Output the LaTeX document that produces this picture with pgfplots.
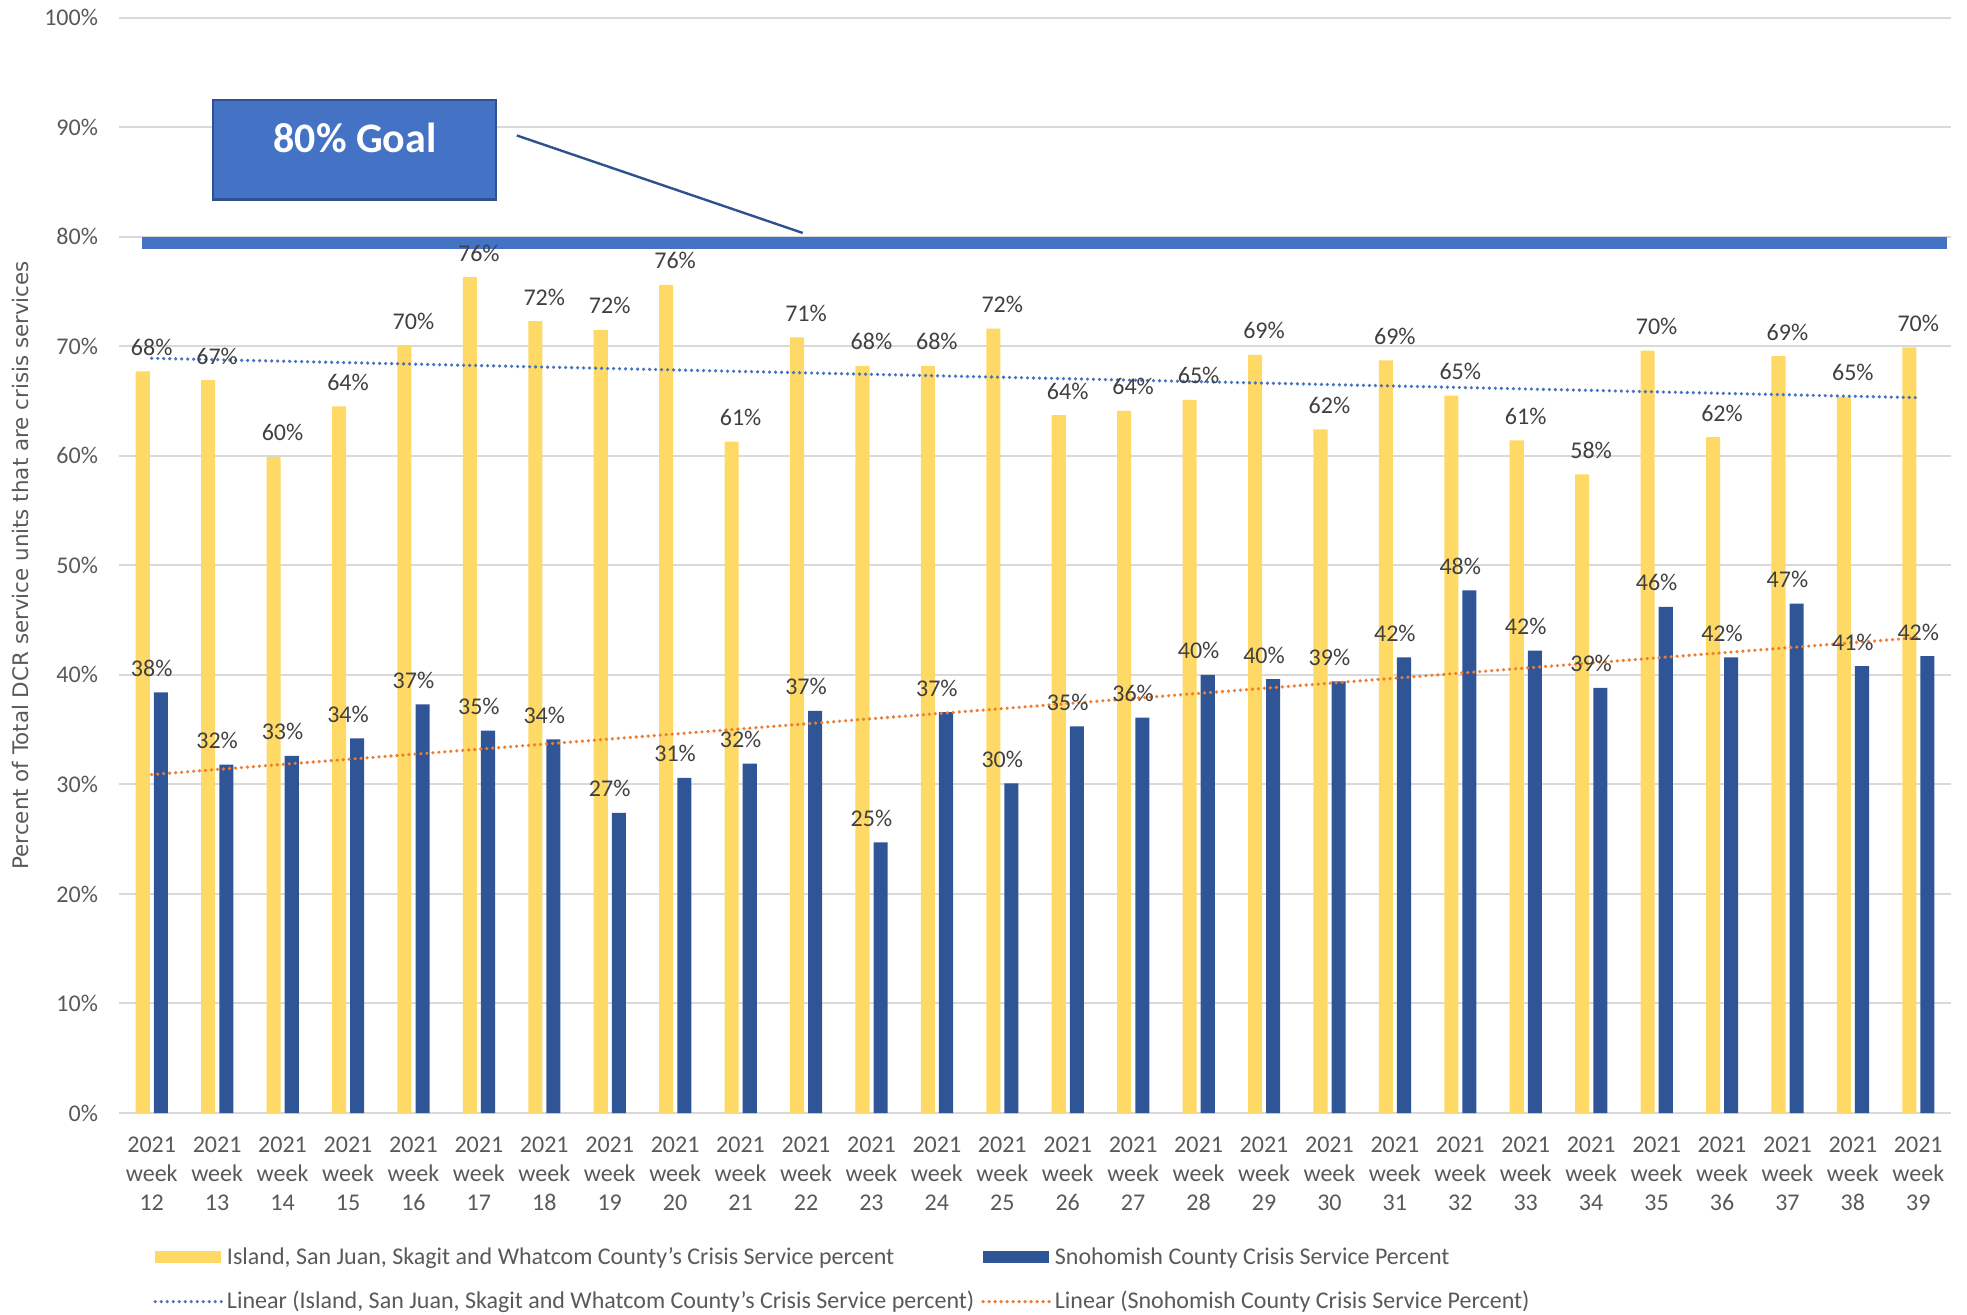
\documentclass[border=0pt]{standalone}
\usepackage{pgfplots}
\pgfplotsset{compat=1.18}
\usepackage{pgfplotstable}
\usepackage{fontspec}
\setmainfont{Carlito}
\newfontfamily\ylabfont{DejaVu Sans}
\definecolor{ygold}{HTML}{FFD966}
\definecolor{bblue}{HTML}{2F5597}
\definecolor{gblue}{HTML}{4472C4}
\definecolor{gedge}{HTML}{2F528F}
\definecolor{trorange}{HTML}{ED7D31}
\definecolor{txtgray}{HTML}{595959}
\definecolor{lblgray}{HTML}{404040}
\definecolor{gridgray}{HTML}{D9D9D9}

\pgfplotstableread{
x y lab
0 67.7 68
1 66.9 67
2 59.9 60
3 64.5 64
4 70.1 70
5 76.3 76
6 72.3 72
7 71.5 72
8 75.6 76
9 61.3 61
10 70.8 71
11 68.2 68
12 68.2 68
13 71.6 72
14 63.7 64
15 64.1 64
16 65.1 65
17 69.2 69
18 62.4 62
19 68.7 69
20 65.5 65
21 61.4 61
22 58.3 58
23 69.6 70
24 61.7 62
25 69.1 69
26 65.4 65
27 69.9 70
}\yellowdata

\pgfplotstableread{
x y lab
0 38.4 38
1 31.8 32
2 32.6 33
3 34.2 34
4 37.3 37
5 34.9 35
6 34.1 34
7 27.4 27
8 30.6 31
9 31.9 32
10 36.7 37
11 24.7 25
12 36.6 37
13 30.1 30
14 35.3 35
15 36.1 36
16 40.0 40
17 39.6 40
18 39.4 39
19 41.6 42
20 47.7 48
21 42.2 42
22 38.8 39
23 46.2 46
24 41.6 42
25 46.5 47
26 40.8 41
27 41.7 42
}\bluedata

\begin{document}
\begin{tikzpicture}
\useasboundingbox (-59.5pt,-100.5pt) rectangle (924pt,556.5pt);
\begin{axis}[
  at={(0pt,0pt)}, anchor=south west,
  scale only axis, width=916pt, height=547.7pt,
  xmin=-0.5, xmax=27.5, ymin=0, ymax=100,
  clip=false,
  axis line style={draw=none},
  ymajorgrids, grid style={gridgray, line width=1pt},
  major tick length=0pt,
  ytick={0,10,20,30,40,50,60,70,80,90,100},
  yticklabels={0\%,10\%,20\%,30\%,40\%,50\%,60\%,70\%,80\%,90\%,100\%},
  yticklabel style={font=\fontsize{12}{14}\selectfont, text=txtgray, xshift=-7pt},
  xtick={0,...,27},
  xticklabels={{2021\\week\\12},{2021\\week\\13},{2021\\week\\14},{2021\\week\\15},{2021\\week\\16},{2021\\week\\17},{2021\\week\\18},{2021\\week\\19},{2021\\week\\20},{2021\\week\\21},{2021\\week\\22},{2021\\week\\23},{2021\\week\\24},{2021\\week\\25},{2021\\week\\26},{2021\\week\\27},{2021\\week\\28},{2021\\week\\29},{2021\\week\\30},{2021\\week\\31},{2021\\week\\32},{2021\\week\\33},{2021\\week\\34},{2021\\week\\35},{2021\\week\\36},{2021\\week\\37},{2021\\week\\38},{2021\\week\\39}},
  xticklabel style={align=center, font=\fontsize{12}{14.4}\selectfont, text=txtgray, yshift=-8.5pt},
  ylabel={Percent of Total DCR service units that are crisis services},
  ylabel style={font=\ylabfont\fontsize{10.7}{12}\selectfont, text=txtgray, at={(axis description cs:-0.0535,0.5)}, anchor=center},
  legend columns=2,
  legend cell align=left,
  legend style={at={(axis description cs:0,0)}, anchor=north west, xshift=14pt, yshift=-63pt,
    draw=none, fill=none, font=\fontsize{12}{14}\selectfont, text=txtgray,
    row sep=8pt,
    /tikz/every odd column/.style={column sep=0pt},
    /tikz/every even column/.style={column sep=1.5pt}},
  nodes near coords style={font=\fontsize{12}{14}\selectfont, text=lblgray, anchor=south, inner sep=0pt, yshift=7.7pt},
]
\addplot[ybar, bar width=0.215, bar shift=-0.137, fill=ygold, draw=none,
  point meta=explicit,
  nodes near coords={\pgfmathprintnumber[fixed,precision=0,assume math mode=true]{\pgfplotspointmeta}\%},
  legend image code/.code={\fill[ygold] (0pt,-3pt) rectangle (33pt,3pt);}]
  table[x=x, y=y, meta=lab]{\yellowdata};
\addlegendentry{Island, San Juan, Skagit and Whatcom County's Crisis Service percent}
\addplot[ybar, bar width=0.215, bar shift=0.14, fill=bblue, draw=none,
  point meta=explicit,
  nodes near coords={\pgfmathprintnumber[fixed,precision=0,assume math mode=true]{\pgfplotspointmeta}\%},
  legend image code/.code={\fill[bblue] (0pt,-3pt) rectangle (33pt,3pt);}]
  table[x=x, y=y, meta=lab]{\bluedata};
\addlegendentry{Snohomish County Crisis Service Percent}
\addplot[gblue, line width=1.8pt, line cap=round, dash pattern=on 0pt off 3pt, mark=none,
  legend image code/.code={\draw[gblue, line width=1.8pt, line cap=round, dash pattern=on 0pt off 3pt] (0pt,0pt) -- (33pt,0pt);}]
  coordinates {(0,68.9) (27,65.3)};
\addlegendentry{Linear (Island, San Juan, Skagit and Whatcom County's Crisis Service percent)}
\addplot[trorange, line width=1.8pt, line cap=round, dash pattern=on 0pt off 3pt, mark=none,
  legend image code/.code={\draw[trorange, line width=1.8pt, line cap=round, dash pattern=on 0pt off 3pt] (0pt,0pt) -- (33pt,0pt);}]
  coordinates {(0,30.9) (27,43.4)};
\addlegendentry{Linear (Snohomish County Crisis Service Percent)}
% goal band
\fill[gblue] (axis cs:-0.15,78.9) rectangle (axis cs:27.44,80);
% goal callout
\draw[gedge, line width=1.2pt, fill=gblue] (axis cs:0.937,92.5) rectangle (axis cs:5.26,83.4);
\node[text=white, font=\bfseries\fontsize{21}{25}\selectfont] at (axis cs:3.107,89.0) {80\% Goal};
\draw[gedge, line width=1.2pt] (axis cs:5.58,89.24) -- (axis cs:9.95,80.34);
\end{axis}
\end{tikzpicture}
\end{document}
